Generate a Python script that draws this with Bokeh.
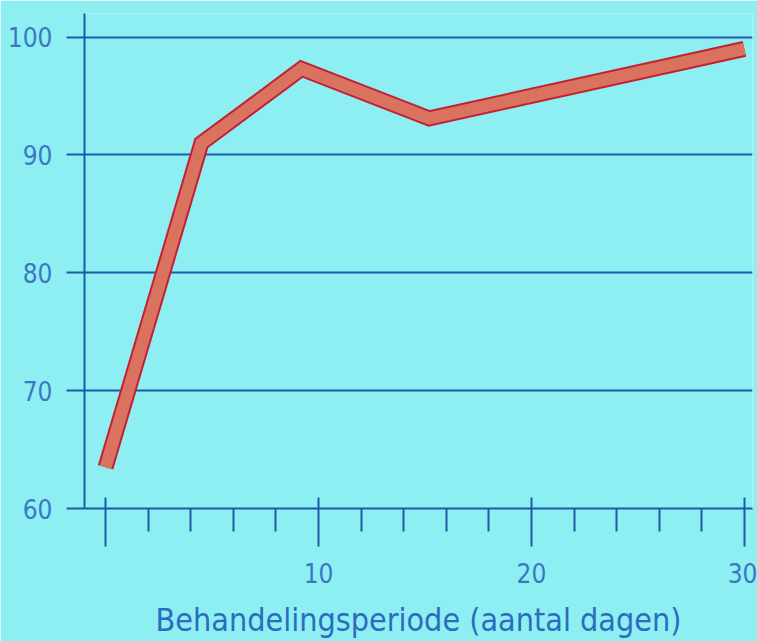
from bokeh.plotting import figure
from bokeh.models import FixedTicker, Range1d
from bokeh.embed import file_html
from bokeh.resources import INLINE

days = [0, 4.5, 9.2, 15.2, 30]
values = [63.5, 91.0, 97.3, 93.1, 99.0]
x_major = [0, 10, 20, 30]
x_labels = {0: "", 10: "10", 20: "20", 30: "30"}
x_minor = [2, 4, 6, 8, 12, 14, 16, 18, 22, 24, 26, 28]
y_major = [60, 70, 80, 90, 100]

BG = "#8eeff3"
GRID = "#1c5aaa"
TXT = "#3a78c2"
FONT = "DejaVu Sans Condensed"

p = figure(width=757, height=641, output_backend="svg", toolbar_location=None,
           x_range=Range1d(-0.99, 30.38), y_range=Range1d(60, 102.0),
           min_border_left=84, min_border_right=5, min_border_top=13, min_border_bottom=132)
p.background_fill_color = BG
p.border_fill_color = BG
p.outline_line_color = None

p.line(days, values, line_color="#c42034", line_width=16, line_join="miter", line_cap="butt")
p.line(days, values, line_color="#d9735f", line_width=12, line_join="miter", line_cap="butt")

xa = p.xaxis[0]
xa.ticker = FixedTicker(ticks=x_major, minor_ticks=x_minor)
xa.major_label_overrides = x_labels
xa.axis_line_color = GRID
xa.axis_line_width = 2
xa.major_tick_line_color = GRID
xa.major_tick_line_width = 2
xa.major_tick_in = 11
xa.major_tick_out = 38
xa.minor_tick_line_color = GRID
xa.minor_tick_line_width = 2
xa.minor_tick_in = 0
xa.minor_tick_out = 23
xa.major_label_text_font = FONT
xa.major_label_text_font_size = "26px"
xa.major_label_text_color = TXT
xa.major_label_standoff = 16
xa.axis_label = "Behandelingsperiode (aantal dagen)"
xa.axis_label_text_font = FONT
xa.axis_label_text_font_size = "32px"
xa.axis_label_text_font_style = "normal"
xa.axis_label_text_color = "#2c6cbc"
xa.axis_label_standoff = 15

ya = p.yaxis[0]
ya.ticker = FixedTicker(ticks=y_major, minor_ticks=[])
ya.axis_line_color = GRID
ya.axis_line_width = 2
ya.major_tick_line_color = GRID
ya.major_tick_line_width = 2
ya.major_tick_in = 0
ya.major_tick_out = 18
ya.minor_tick_line_color = None
ya.major_label_text_font = FONT
ya.major_label_text_font_size = "26px"
ya.major_label_text_color = TXT
ya.major_label_standoff = 14

p.xgrid.grid_line_color = None
p.ygrid.ticker = FixedTicker(ticks=y_major)
p.ygrid.grid_line_color = GRID
p.ygrid.grid_line_width = 2

open("out.html", "w").write(file_html(p, INLINE))
